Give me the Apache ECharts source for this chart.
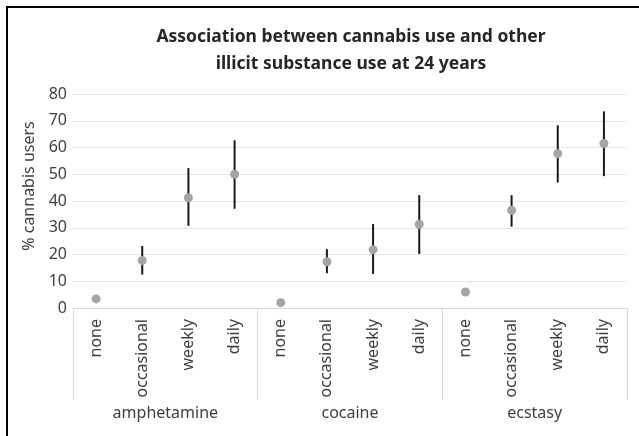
<!DOCTYPE html>
<html>
<head>
<meta charset="utf-8">
<script src="https://cdn.jsdelivr.net/npm/echarts@6/dist/echarts.min.js"></script>
<style>
  html, body { margin: 0; padding: 0; background: #ffffff; }
  #chart { width: 639px; height: 436px; }
</style>
</head>
<body>
<div id="chart"></div>
<script>
// Frequency of cannabis use within each substance group
const useLevels = ['none', 'occasional', 'weekly', 'daily'];
const substances = ['amphetamine', 'cocaine', 'ecstasy'];
const yTicks = [0, 10, 20, 30, 40, 50, 60, 70, 80];

// % cannabis users, with lower / upper confidence limits
const pctUsers = [3.4, 17.8, 41.2, 50.0, 2.0, 17.3, 21.8, 31.3, 6.0, 36.5, 57.7, 61.5];
const lowerCI  = [null, 12.5, 30.7, 37.1, null, 13.0, 12.7, 20.2, null, 30.4, 46.9, 49.3];
const upperCI  = [null, 23.2, 52.3, 62.7, null, 22.0, 31.4, 42.2, null, 42.2, 68.3, 73.5];

const categories = [];
substances.forEach(() => useLevels.forEach(l => categories.push(l)));

const pointData = pctUsers.map((v, i) => [i, v]);
const ciData = [];
lowerCI.forEach((lo, i) => {
  if (lo !== null && upperCI[i] !== null) ciData.push([i, lo, upperCI[i]]);
});

const FONT = 'Noto Sans';
const TEXT = '#404040';
const RULE = '#d9d9d9';

const chart = echarts.init(document.getElementById('chart'), null, { renderer: 'canvas' });

chart.setOption({
  backgroundColor: '#ffffff',
  animation: false,
  title: {
    text: 'Association between cannabis use and other\nillicit substance use at 24 years',
    left: 346,
    top: 19,
    textAlign: 'center',
    textStyle: {
      fontFamily: FONT,
      fontSize: 17.5,
      fontWeight: 'bold',
      color: '#262626',
      lineHeight: 27
    }
  },
  grid: { left: 73, right: 12, top: 94, bottom: 128, containLabel: false },
  xAxis: [
    {
      type: 'category',
      data: categories,
      position: 'bottom',
      axisLine: { show: true, lineStyle: { color: RULE, width: 1 } },
      axisTick: { show: false },
      axisLabel: {
        rotate: 90,
        margin: 11,
        interval: 0,
        fontFamily: FONT,
        fontSize: 16,
        color: TEXT
      },
      splitLine: { show: false }
    },
    {
      type: 'category',
      data: substances,
      position: 'bottom',
      axisLine: { show: false },
      axisTick: { show: true, length: 92, lineStyle: { color: RULE, width: 1 } },
      axisLabel: {
        margin: 97,
        interval: 0,
        fontFamily: FONT,
        fontSize: 16,
        color: TEXT
      },
      splitLine: { show: false }
    }
  ],
  yAxis: {
    type: 'value',
    min: yTicks[0],
    max: yTicks[yTicks.length - 1],
    interval: 10,
    name: '% cannabis users',
    nameLocation: 'middle',
    nameGap: 30,
    nameTextStyle: { fontFamily: FONT, fontSize: 16, color: TEXT, padding: [0, 0, 0, 30] },
    axisLine: { show: false },
    axisTick: { show: false },
    axisLabel: { fontFamily: FONT, fontSize: 16, color: TEXT, margin: 6 },
    splitLine: { show: true, lineStyle: { color: '#e6e6e6', width: 1 } }
  },
  graphic: [
    { type: 'line', shape: { x1: 7, y1: 6, x2: 7, y2: 436 }, style: { stroke: '#000', lineWidth: 2 }, silent: true },
    { type: 'line', shape: { x1: 6, y1: 7, x2: 639, y2: 7 }, style: { stroke: '#000', lineWidth: 2 }, silent: true }
  ],
  series: [
    {
      type: 'custom',
      name: 'CI',
      xAxisIndex: 0,
      data: ciData,
      encode: { x: 0, y: [1, 2] },
      renderItem: function (params, api) {
        const i = api.value(0);
        const p1 = api.coord([i, api.value(1)]);
        const p2 = api.coord([i, api.value(2)]);
        return {
          type: 'line',
          shape: { x1: p1[0], y1: p1[1], x2: p2[0], y2: p2[1] },
          style: { stroke: '#1a1a1a', lineWidth: 2 }
        };
      },
      z: 2
    },
    {
      type: 'scatter',
      name: '% cannabis users',
      xAxisIndex: 0,
      data: pointData,
      symbol: 'circle',
      symbolSize: 9,
      itemStyle: { color: '#a5a5a5', opacity: 1 },
      z: 3
    }
  ]
});
</script>
</body>
</html>
